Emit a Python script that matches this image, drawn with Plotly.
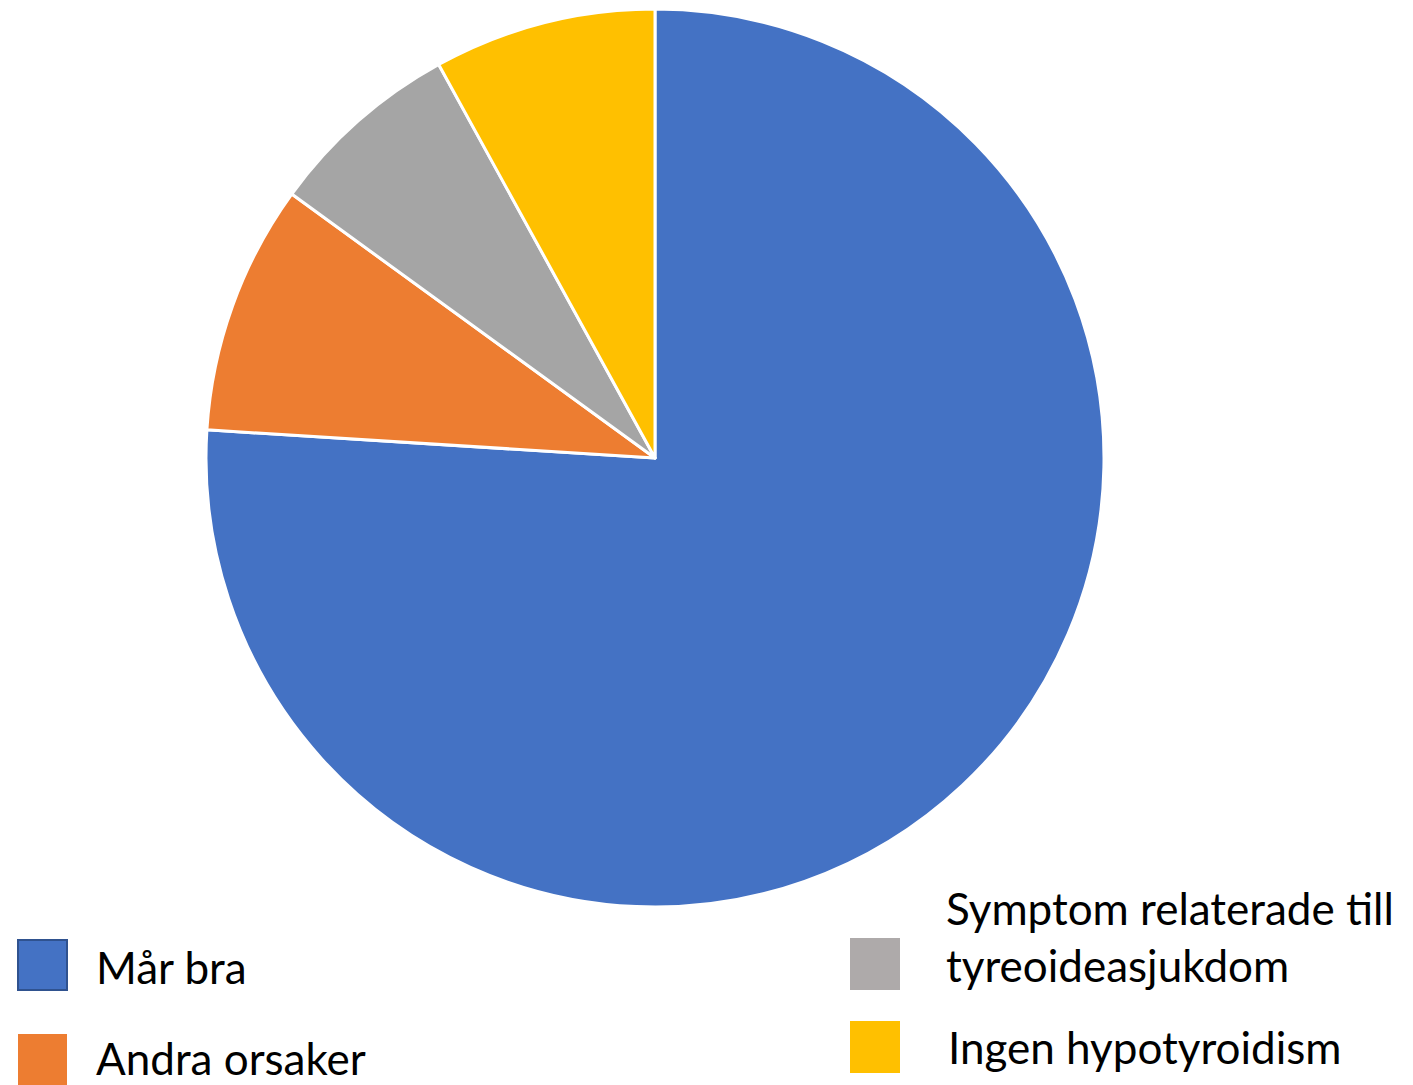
import plotly.graph_objects as go

# Share of responses per category (percent)
labels = ["Mår bra", "Andra orsaker", "Symptom relaterade till tyreoideasjukdom", "Ingen hypotyroidism"]
legend_text = ["Mår bra", "Andra orsaker", "Symptom relaterade till<br>tyreoideasjukdom", "Ingen hypotyroidism"]
values = [76, 9, 7, 8]
colors = ["#4472C4", "#ED7D31", "#A5A5A5", "#FFC000"]
legend_colors = ["#4472C4", "#ED7D31", "#AEAAAA", "#FFC000"]

W, H = 1413, 1085
FONT = "Lato"


def px(x):
    return x / W


def py(y):
    return 1 - y / H


cx, cy, r = 655, 458, 449

fig = go.Figure(
    go.Pie(
        labels=labels,
        values=values,
        sort=False,
        direction="clockwise",
        rotation=0,
        marker=dict(colors=colors, line=dict(color="white", width=3)),
        textinfo="none",
        hoverinfo="label+percent",
        showlegend=False,
        domain=dict(x=[px(cx - r), px(cx + r)], y=[py(cy + r), py(cy - r)]),
    )
)

# Hand-placed two-column legend below the pie
# (square box [x0, y0, x1, y1], text left x, text centre y)
legend_layout = [
    ((18, 940, 67, 990), 94, 967),
    ((18, 1034, 67, 1086), 94, 1058),
    ((850, 938, 900, 990), 944, 936),
    ((850, 1021, 900, 1073), 946, 1047),
]

shapes = []
annotations = []
for i, ((x0, y0, x1, y1), tx, ty) in enumerate(legend_layout):
    border = dict(color="#2F528F", width=2) if i == 0 else dict(width=0)
    shapes.append(
        dict(
            type="rect", xref="paper", yref="paper",
            x0=px(x0), x1=px(x1), y0=py(y1), y1=py(y0),
            fillcolor=legend_colors[i], line=border, layer="above",
        )
    )
    annotations.append(
        dict(
            text=legend_text[i], xref="paper", yref="paper",
            x=px(tx), y=py(ty), xanchor="left", yanchor="middle",
            showarrow=False, align="left",
            font=dict(family=FONT, size=44, color="#000000"),
        )
    )

fig.update_layout(
    width=W,
    height=H,
    margin=dict(l=0, r=0, t=0, b=0),
    paper_bgcolor="white",
    plot_bgcolor="white",
    shapes=shapes,
    annotations=annotations,
)

fig.write_html("out.html")
